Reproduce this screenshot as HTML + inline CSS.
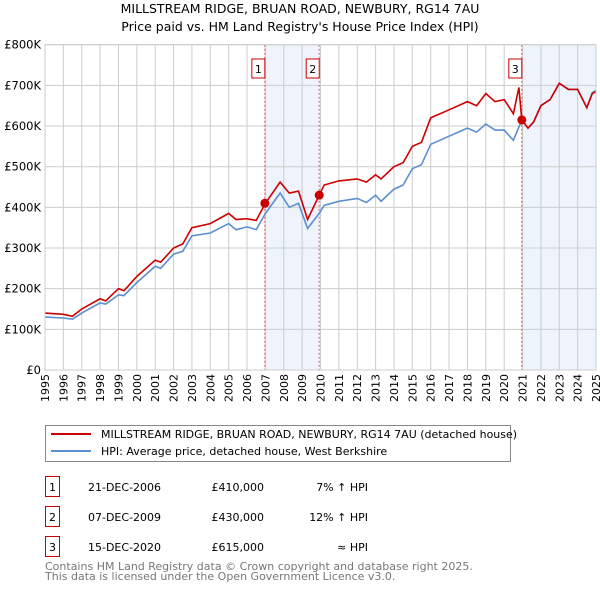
<!DOCTYPE html>
<html><head><meta charset="utf-8"><style>
body{margin:0;width:600px;height:590px;background:#fff;font-family:"Liberation Sans","DejaVu Sans",sans-serif;overflow:hidden}
svg text{font-family:"DejaVu Sans","Liberation Sans",sans-serif}
</style></head><body>
<svg id="c" width="600" height="590">
<text x="300" y="13" text-anchor="middle" font-size="12.5">MILLSTREAM RIDGE, BRUAN ROAD, NEWBURY, RG14 7AU</text>
<text x="300" y="31" text-anchor="middle" font-size="12.5">Price paid vs. HM Land Registry's House Price Index (HPI)</text>
<g id="plot"></g>
<rect x="45.5" y="425.5" width="465" height="36" fill="none" stroke="#888"/>
<line x1="51" y1="434" x2="91" y2="434" stroke="#cc0000" stroke-width="2"/>
<text x="101" y="438" font-size="11">MILLSTREAM RIDGE, BRUAN ROAD, NEWBURY, RG14 7AU (detached house)</text>
<line x1="51" y1="451" x2="91" y2="451" stroke="#5b8fd0" stroke-width="2"/>
<text x="101" y="455" font-size="11">HPI: Average price, detached house, West Berkshire</text>
<g font-size="11">
<rect x="45.5" y="476.5" width="14" height="20" fill="none" stroke="#cc0000"/><text x="52.5" y="491" text-anchor="middle">1</text>
<text x="88" y="491">21-DEC-2006</text><text x="264" y="491" text-anchor="end">£410,000</text><text x="368" y="491" text-anchor="end">7% ↑ HPI</text>
<rect x="45.5" y="506.5" width="14" height="20" fill="none" stroke="#cc0000"/><text x="52.5" y="521" text-anchor="middle">2</text>
<text x="88" y="521">07-DEC-2009</text><text x="264" y="521" text-anchor="end">£430,000</text><text x="368" y="521" text-anchor="end">12% ↑ HPI</text>
<rect x="45.5" y="536.5" width="14" height="20" fill="none" stroke="#cc0000"/><text x="52.5" y="551" text-anchor="middle">3</text>
<text x="88" y="551">15-DEC-2020</text><text x="264" y="551" text-anchor="end">£615,000</text><text x="368" y="551" text-anchor="end">≈ HPI</text>
</g>
<text x="45" y="570" font-size="11" fill="#777">Contains HM Land Registry data © Crown copyright and database right 2025.</text>
<text x="45" y="580" font-size="11" fill="#777">This data is licensed under the Open Government Licence v3.0.</text>
</svg>
<script>
const yTicks=[0,100,200,300,400,500,600,700,800];
const yTickLabels=["£0","£100K","£200K","£300K","£400K","£500K","£600K","£700K","£800K"];
const years=[1995,1996,1997,1998,1999,2000,2001,2002,2003,2004,2005,2006,2007,2008,2009,2010,2011,2012,2013,2014,2015,2016,2017,2018,2019,2020,2021,2022,2023,2024,2025];
const redT=[1995,1996,1996.5,1997,1998,1998.3,1999,1999.3,2000,2001,2001.3,2002,2002.5,2003,2004,2005,2005.4,2006,2006.5,2007,2007.8,2008.3,2008.8,2009.3,2009.93,2010.2,2011,2012,2012.5,2013,2013.3,2014,2014.5,2015,2015.5,2016,2017,2018,2018.5,2019,2019.5,2020,2020.5,2020.8,2020.96,2021.3,2021.6,2022,2022.5,2023,2023.5,2024,2024.5,2024.8,2025];
const redV=[140,137,132,150,175,170,200,195,230,270,265,300,310,350,360,385,370,372,368,410,462,435,440,370,430,455,465,470,462,480,470,500,510,550,560,620,640,660,650,680,660,665,630,695,615,595,610,650,665,705,690,690,645,680,685];
const blueT=[1995,1996,1996.5,1997,1998,1998.3,1999,1999.3,2000,2001,2001.3,2002,2002.5,2003,2004,2005,2005.4,2006,2006.5,2007,2007.8,2008.3,2008.8,2009.3,2009.93,2010.2,2011,2012,2012.5,2013,2013.3,2014,2014.5,2015,2015.5,2016,2017,2018,2018.5,2019,2019.5,2020,2020.5,2020.96,2021.3,2021.6,2022,2022.5,2023,2023.5,2024,2024.5,2024.8,2025];
const blueV=[130,128,125,140,165,162,185,183,215,255,250,285,292,330,337,360,345,352,345,385,435,400,410,348,385,405,415,422,412,430,415,445,455,495,505,555,575,595,585,605,590,590,565,615,595,610,650,665,705,690,690,645,682,687];
const sales=[[2006.97,410],[2009.93,430],[2020.96,615]];
const X=t=>45+(t-1995)*(551/30), Y=v=>370-v*(325.3/800);
const g=document.getElementById('plot'),NS='http://www.w3.org/2000/svg';
function mk(tag,a){const e=document.createElementNS(NS,tag);for(const k in a)e.setAttribute(k,a[k]);g.appendChild(e);return e;}
let e;
e=mk('rect',{x:X(sales[0][0]),y:Y(800),width:X(sales[1][0])-X(sales[0][0]),height:Y(0)-Y(800),fill:'#eef3fc'});


e=mk('rect',{x:X(sales[2][0]),y:Y(800),width:X(2025)-X(sales[2][0]),height:Y(0)-Y(800),fill:'#eef3fc'});


yTicks.forEach((v,i)=>{
 e=mk('line',{x1:45,x2:596,y1:Y(v),y2:Y(v),stroke:'#ccc'});
 
 
 e=mk('text',{x:41,y:Y(v)+4,'text-anchor':'end','font-size':11.5});e.textContent=yTickLabels[i];
 
 
});
years.forEach(y=>{
 e=mk('line',{x1:X(y),x2:X(y),y1:Y(800),y2:Y(0),stroke:'#ccc'});
 
 
 const tx=X(y)+4;
 e=mk('text',{x:tx,y:374,'text-anchor':'end','font-size':11,transform:'rotate(-90 '+tx+' 374)'});e.textContent=y;
 
 
});
sales.forEach((s,i)=>{
 e=mk('line',{x1:X(s[0]),x2:X(s[0]),y1:Y(800),y2:Y(0),stroke:'#e05555','stroke-dasharray':'2,2'});
 
 
 e=mk('rect',{x:X(s[0])-13,y:59,width:13,height:19,fill:'#fff',stroke:'#cc0000'});
 
 
 e=mk('text',{x:X(s[0])-6.5,y:73,'text-anchor':'middle','font-size':11});e.textContent=i+1;
 
 
});
function line(T,V,c,n){const d=T.map((t,i)=>(i?'L':'M')+X(t).toFixed(1)+','+Y(V[i]).toFixed(1)).join('');
 e=mk('path',{d:d,fill:'none',stroke:c,'stroke-width':1.6});
 
 }
line(blueT,blueV,'#5b8fd0','hpi-line');
line(redT,redV,'#cc0000','property-line');
sales.forEach(s=>{e=mk('circle',{cx:X(s[0]),cy:Y(s[1]),r:4.5,fill:'#cc0000'});
 
 });
e=mk('rect',{x:45,y:Y(800),width:551,height:Y(0)-Y(800),fill:'none',stroke:'#ccc'});


</script>
</body></html>
